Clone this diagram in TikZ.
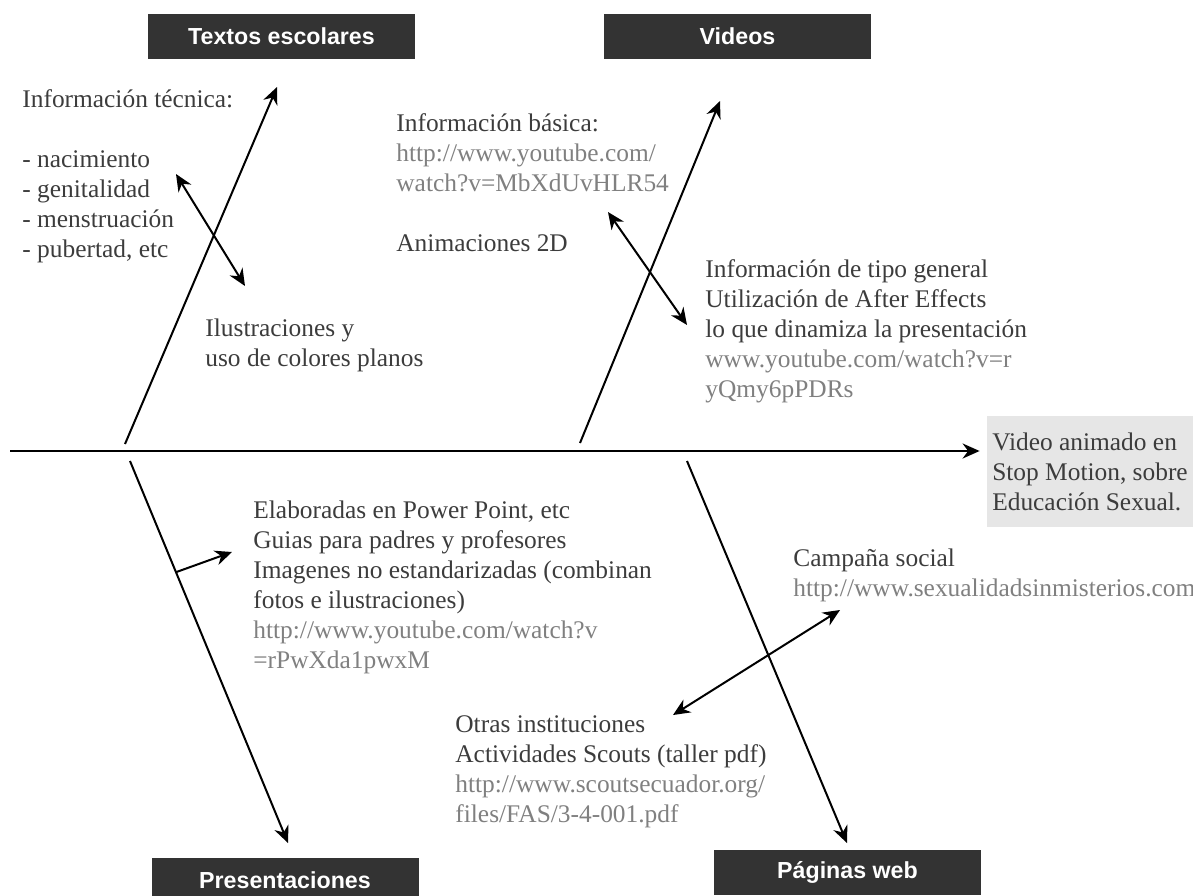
\documentclass[tikz,border=0pt]{standalone}
\usepackage{fontspec}
\setmainfont{Liberation Serif}
\newfontfamily\headfont{Liberation Sans}
\usetikzlibrary{arrows.meta, calc}
\usepackage{xcolor}
\definecolor{headgray}{RGB}{51,51,51}
\definecolor{bodygray}{RGB}{60,60,60}
\definecolor{urlgray}{RGB}{128,128,128}
\definecolor{boxgray}{RGB}{230,230,230}
\newcommand{\lnk}[1]{{\color{urlgray}#1}}

\begin{document}
\begin{tikzpicture}[
  x=0.5pt, y=-0.5pt,
  head/.style={rectangle, fill=headgray, text=white, minimum width=133.5pt, minimum height=22.5pt, inner sep=0pt, font=\headfont\bfseries\fontsize{11.6}{14}\selectfont},
  txt/.style={anchor=north west, inner sep=0pt, align=left, text=bodygray, font=\fontsize{12.7}{15}\selectfont},
  goalbox/.style={rectangle, fill=boxgray, minimum width=103pt, minimum height=55.5pt, inner sep=0pt, align=left, text=bodygray, font=\fontsize{12.7}{15}\selectfont},
  arrow/.style={-{Stealth[length=8.5pt, width=7.5pt]}, line width=1pt},
  dblarrow/.style={{Stealth[length=8.5pt, width=7.5pt]}-{Stealth[length=8.5pt, width=7.5pt]}, line width=1pt}
]
  \useasboundingbox (0,0) rectangle (1193,895);

  % cabeceras
  \node[head] (textos) at (281.5,36.5) {Textos escolares};
  \node[head] (videos) at (737.5,36.5) {Videos};
  \node[head] (present) at (285,880.5) {Presentaciones};
  \node[head] (paginas) at (847.5,872.5) {Páginas web};

  % efecto
  \node[goalbox] (goal) at (1090,471.5) {Video animado en\\Stop Motion, sobre\\Educación Sexual.};

  % textos
  \node[txt] (tecnica) at (22,89) {Información técnica:\\[15pt]- nacimiento\\- genitalidad\\- menstruación\\- pubertad, etc};
  \node[txt] (ilustr) at (205,318) {Ilustraciones y\\uso de colores planos};
  \node[txt] (basica) at (396,113) {Información básica:\\\lnk{http://www.youtube.com/}\\\lnk{watch?v=MbXdUvHLR54}\\[15pt]Animaciones 2D};
  \node[txt] (general) at (705,259) {Información de tipo general\\Utilización de After Effects\\lo que dinamiza la presentación\\\lnk{www.youtube.com/watch?v=r}\\\lnk{yQmy6pPDRs}};
  \node[txt] (elabor) at (253,500) {Elaboradas en Power Point, etc\\Guias para padres y profesores\\Imagenes no estandarizadas (combinan\\fotos e ilustraciones)\\\lnk{http://www.youtube.com/watch?v}\\\lnk{=rPwXda1pwxM}};
  \node[txt] (campana) at (793,548) {Campaña social\\\lnk{http://www.sexualidadsinmisterios.com}};
  \node[txt] (otras) at (455,715) {Otras instituciones\\Actividades Scouts (taller pdf)\\\lnk{http://www.scoutsecuador.org/}\\\lnk{files/FAS/3-4-001.pdf}};

  % espina central
  \coordinate (mstart) at (10,451);
  \draw[arrow, line width=1.2pt, shorten >=3.5pt] (mstart) -- (mstart -| goal.west);

  % ramas
  \coordinate (b1) at (125,444);
  \coordinate (t1) at (277,87);
  \coordinate (b2) at (580,443);
  \coordinate (t2) at (720,101);
  \coordinate (b3) at (130,461);
  \coordinate (t3) at (288,843);
  \coordinate (b4) at (687,461);
  \coordinate (t4) at (847,843);
  \draw[arrow] (b1) -- (t1);
  \draw[arrow] (b2) -- (t2);
  \draw[arrow] (b3) -- (t3);
  \draw[arrow] (b4) -- (t4);

  % sub-flechas
  \coordinate (s1a) at (176,174);
  \coordinate (s1b) at (245,286);
  \coordinate (s2a) at (608,212);
  \coordinate (s2b) at (687,325);
  \coordinate (s3a) at ($(b3)!0.291!(t3)$);
  \coordinate (s3b) at (232,552);
  \coordinate (s4a) at (840,610);
  \coordinate (s4b) at (673,715);
  \draw[dblarrow] (s1a) -- (s1b);
  \draw[dblarrow] (s2a) -- (s2b);
  \draw[arrow] (s3a) -- (s3b);
  \draw[dblarrow] (s4a) -- (s4b);
\end{tikzpicture}
\end{document}
